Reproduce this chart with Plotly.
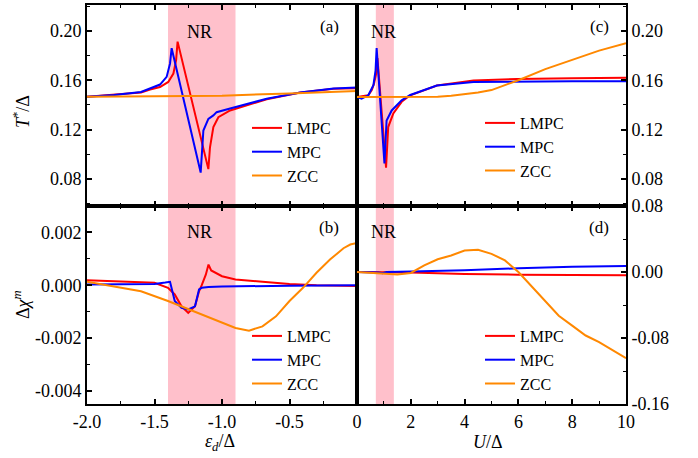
import plotly.graph_objects as go

# ---------------- data ----------------
# panel (a): T*/Delta vs eps_d/Delta
a_red_x = [-2.0, -1.8, -1.6, -1.533, -1.459, -1.398, -1.36, -1.34, -1.329, -1.101, -1.089, -1.064, -1.027, -0.94, -0.8, -0.669, -0.42, -0.173, 0.0]
a_red_y = [0.1465, 0.148, 0.150, 0.1525, 0.1545, 0.1586, 0.1654, 0.1763, 0.1913, 0.0879, 0.1056, 0.122, 0.130, 0.1355, 0.140, 0.1445, 0.150, 0.153, 0.1535]
a_blue_x = [-2.0, -1.8, -1.6, -1.533, -1.459, -1.41, -1.385, -1.373, -1.158, -1.138, -1.101, -1.064, -1.04, -0.94, -0.8, -0.669, -0.42, -0.173, 0.0]
a_blue_y = [0.1465, 0.148, 0.1505, 0.1532, 0.1565, 0.1627, 0.1736, 0.186, 0.0851, 0.1192, 0.1287, 0.1315, 0.1341, 0.137, 0.141, 0.145, 0.150, 0.1532, 0.154]
a_orange_x = [-2.0, -1.5, -1.0, -0.5, 0.0]
a_orange_y = [0.1465, 0.1467, 0.1475, 0.1493, 0.1513]

# panel (c): T*/Delta vs U/Delta
c_red_x = [0, 0.17, 0.42, 0.55, 0.63, 0.72, 0.76, 1.08, 1.16, 1.35, 1.66, 1.98, 2.5, 2.97, 4.33, 5.95, 8, 10]
c_red_y = [0.1464, 0.147, 0.1478, 0.152, 0.157, 0.166, 0.178, 0.089, 0.122, 0.133, 0.1425, 0.1478, 0.152, 0.1557, 0.1598, 0.161, 0.1615, 0.162]
c_blue_x = [0, 0.17, 0.42, 0.55, 0.61, 0.69, 0.73, 1.02, 1.1, 1.29, 1.66, 1.98, 2.5, 2.97, 4.33, 5.95, 8, 10]
c_blue_y = [0.1464, 0.145, 0.1478, 0.153, 0.156, 0.168, 0.186, 0.0925, 0.1273, 0.1355, 0.1437, 0.148, 0.152, 0.1557, 0.1586, 0.159, 0.1592, 0.1592]
c_orange_x = [0, 1, 2, 3, 3.5, 4, 4.5, 5, 5.5, 6, 7, 8, 9, 10]
c_orange_y = [0.1464, 0.1464, 0.1464, 0.1466, 0.1475, 0.1486, 0.150, 0.152, 0.156, 0.160, 0.169, 0.1765, 0.184, 0.190]

# panel (b): Delta chi^m vs eps_d/Delta
b_red_x = [-2.0, -1.8, -1.6, -1.5, -1.4, -1.35, -1.3, -1.25, -1.2, -1.17, -1.15, -1.12, -1.1, -1.08, -1.0, -0.9, -0.7, -0.5, -0.3, 0.0]
b_red_y = [0.00019, 0.00016, 0.00012, 0.00009, -0.0001, -0.00035, -0.0008, -0.00105, -0.0008, -0.00023, 0.0, 0.0004, 0.00078, 0.00056, 0.00034, 0.00022, 0.00013, 0.00005, 0.0, -0.00003]
b_blue_x = [-2.0, -1.5, -1.42, -1.385, -1.35, -1.3, -1.25, -1.2, -1.17, -1.15, -1.1, -1.0, -0.5, 0.0]
b_blue_y = [0.00003, 0.00005, 0.0001, 0.00013, -0.0006, -0.00086, -0.00092, -0.0008, -0.00016, -0.0001, -0.00007, -0.00005, -0.00002, 0.0]
b_orange_x = [-2.0, -1.8, -1.6, -1.4, -1.2, -1.0, -0.9, -0.8, -0.7, -0.6, -0.5, -0.4, -0.3, -0.2, -0.1, -0.05, 0.0]
b_orange_y = [0.00013, -0.00004, -0.00023, -0.0006, -0.001, -0.00143, -0.00162, -0.00172, -0.00156, -0.00118, -0.0006, -0.0001, 0.00047, 0.00097, 0.0014, 0.00154, 0.0016]

# panel (d): Delta chi^m vs U/Delta
d_red_x = [0, 1, 2, 3, 4, 6, 8, 10]
d_red_y = [0.0, 0.0, -0.0005, -0.0015, -0.0024, -0.0032, -0.0036, -0.004]
d_blue_x = [0, 0.8, 0.95, 1.1, 2, 4, 6, 8, 10]
d_blue_y = [0.0, -0.0005, -0.0015, 0.0, 0.0005, 0.002, 0.0045, 0.0065, 0.0073]
d_orange_x = [0, 1, 1.5, 2, 2.5, 3, 3.5, 4, 4.5, 5, 5.5, 6, 6.5, 7, 7.5, 8, 8.5, 9, 9.5, 10]
d_orange_y = [0, -0.002, -0.003, -0.0012, 0.008, 0.0154, 0.020, 0.026, 0.027, 0.022, 0.014, 0.0, -0.018, -0.036, -0.053, -0.065, -0.077, -0.085, -0.095, -0.1045]

series_names = ["LMPC", "MPC", "ZCC"]
nr_left = [-1.4, -0.9]
nr_right = [0.7, 1.37]

# tick labels
x_left_ticks = [-2.0, -1.5, -1.0, -0.5, 0.0]
x_left_text = ["-2.0", "-1.5", "-1.0", "-0.5", "0"]
x_right_ticks = [0, 2, 4, 6, 8, 10]
x_right_text = ["", "2", "4", "6", "8", "10"]
y_top_ticks = [0.08, 0.12, 0.16, 0.20]
y_top_text = ["0.08", "0.12", "0.16", "0.20"]
y_bl_ticks = [-0.004, -0.002, 0.0, 0.002]
y_bl_text = ["-0.004", "-0.002", "0.000", "0.002"]
y_br_ticks = [-0.16, -0.08, 0.0, 0.08]
y_br_text = ["-0.16", "-0.08", "0.00", "0.08"]

# ---------------- figure ----------------
W, H = 698, 458
def px(x):
    return x / W
def py(y):
    return 1 - y / H

FONT = "Liberation Serif, Times New Roman, serif"
RED, BLUE, ORANGE = "#FF0000", "#0000FF", "#FF8800"
colors = [RED, BLUE, ORANGE]

fig = go.Figure()

panels = [
    ("x", "y", "legend", [(a_red_x, a_red_y), (a_blue_x, a_blue_y), (a_orange_x, a_orange_y)]),
    ("x2", "y2", "legend2", [(c_red_x, c_red_y), (c_blue_x, c_blue_y), (c_orange_x, c_orange_y)]),
    ("x3", "y3", "legend3", [(b_red_x, b_red_y), (b_blue_x, b_blue_y), (b_orange_x, b_orange_y)]),
    ("x4", "y4", "legend4", [(d_red_x, d_red_y), (d_blue_x, d_blue_y), (d_orange_x, d_orange_y)]),
]
for xa, ya, lg, data in panels:
    for (xs, ys), nm, col in zip(data, series_names, colors):
        fig.add_trace(go.Scatter(x=xs, y=ys, mode="lines", name=nm,
                                 line=dict(color=col, width=2),
                                 xaxis=xa, yaxis=ya, legend=lg))

xl = [px(87), px(357)]
xr = [px(357), px(626)]
yt = [py(206), py(5)]
yb = [py(404), py(206)]

tickfont = dict(family=FONT, size=18, color="black")
common = dict(showgrid=False, zeroline=False, showline=True, linecolor="black",
              linewidth=2, ticks="inside", ticklen=5, tickwidth=1.5, tickcolor="black",
              tickfont=tickfont, automargin=False)

def minor(d):
    return dict(dtick=d, ticks="inside", ticklen=3, tickwidth=1.2, tickcolor="black", showgrid=False)

fig.update_layout(
    width=W, height=H,
    margin=dict(l=0, r=0, t=0, b=0),
    paper_bgcolor="white", plot_bgcolor="white",
    font=dict(family=FONT, size=17, color="black"),
    xaxis=dict(domain=xl, anchor="y", range=[-2, 0], mirror="ticks",
               tickvals=x_left_ticks, ticktext=x_left_text, showticklabels=False,
               minor=minor(0.25), **common),
    xaxis2=dict(domain=xr, anchor="y2", range=[0, 10], mirror="ticks",
                tickvals=x_right_ticks, ticktext=x_right_text, showticklabels=False,
                minor=minor(1), **common),
    xaxis3=dict(domain=xl, anchor="y3", range=[-2, 0], mirror="ticks",
                tickvals=x_left_ticks, ticktext=x_left_text,
                minor=minor(0.25), **common),
    xaxis4=dict(domain=xr, anchor="y4", range=[0, 10], mirror="ticks",
                tickvals=x_right_ticks, ticktext=x_right_text,
                minor=minor(1), **common),
    yaxis=dict(domain=yt, anchor="x", range=[0.058, 0.221], mirror=True,
               tickvals=y_top_ticks, ticktext=y_top_text, minor=minor(0.02), **common),
    yaxis2=dict(domain=yt, anchor="x2", range=[0.058, 0.221], side="right", mirror=True,
                tickvals=y_top_ticks, ticktext=y_top_text, minor=minor(0.02), **common),
    yaxis3=dict(domain=yb, anchor="x3", range=[-0.0045, 0.003], mirror=True,
                tickvals=y_bl_ticks, ticktext=y_bl_text, minor=minor(0.001), **common),
    yaxis4=dict(domain=yb, anchor="x4", range=[-0.16, 0.08], side="right", mirror=True,
                tickvals=y_br_ticks, ticktext=y_br_text, minor=minor(0.04), **common),
)

leg_common = dict(bgcolor="rgba(0,0,0,0)", borderwidth=0, xanchor="left", yanchor="top",
                  font=dict(family=FONT, size=16, color="black"), tracegroupgap=0)
fig.update_layout(
    legend=dict(x=px(247), y=py(111), **leg_common),
    legend2=dict(x=px(480), y=py(106), **leg_common),
    legend3=dict(x=px(247), y=py(319), **leg_common),
    legend4=dict(x=px(480), y=py(319), **leg_common),
)

# NR shading
shapes = []
for xref, yref, rng in [("x", "y domain", nr_left), ("x2", "y2 domain", nr_right),
                        ("x3", "y3 domain", nr_left), ("x4", "y4 domain", nr_right)]:
    shapes.append(dict(type="rect", xref=xref, yref=yref, x0=rng[0], x1=rng[1], y0=0, y1=1,
                       fillcolor="#FFC0CB", line=dict(width=0), layer="below"))
fig.update_layout(shapes=shapes)

ann = []
def add_text(text, x, y, size=18, angle=0):
    ann.append(dict(text=text, x=px(x), y=py(y), xref="paper", yref="paper",
                    showarrow=False, xanchor="center", yanchor="middle",
                    textangle=angle, font=dict(family=FONT, size=size, color="black")))

add_text("NR", 199, 32)
add_text("NR", 199, 232)
add_text("NR", 383, 32)
add_text("NR", 383, 232)
add_text("(a)", 329, 27, 17)
add_text("(b)", 329, 227, 17)
add_text("(c)", 599, 27, 17)
add_text("(d)", 599, 227, 17)
add_text("<i>T</i><sup>*</sup>/Δ", 21, 112, 18, -90)
add_text("Δ<i>χ</i><sup><i>m</i></sup>", 21, 305, 18, -90)
add_text("<i>ε</i><sub><i>d</i></sub>/Δ", 220, 442, 18)
add_text("<i>U</i>/Δ", 488, 442, 18)
fig.update_layout(annotations=ann)

fig.write_html("out.html")
